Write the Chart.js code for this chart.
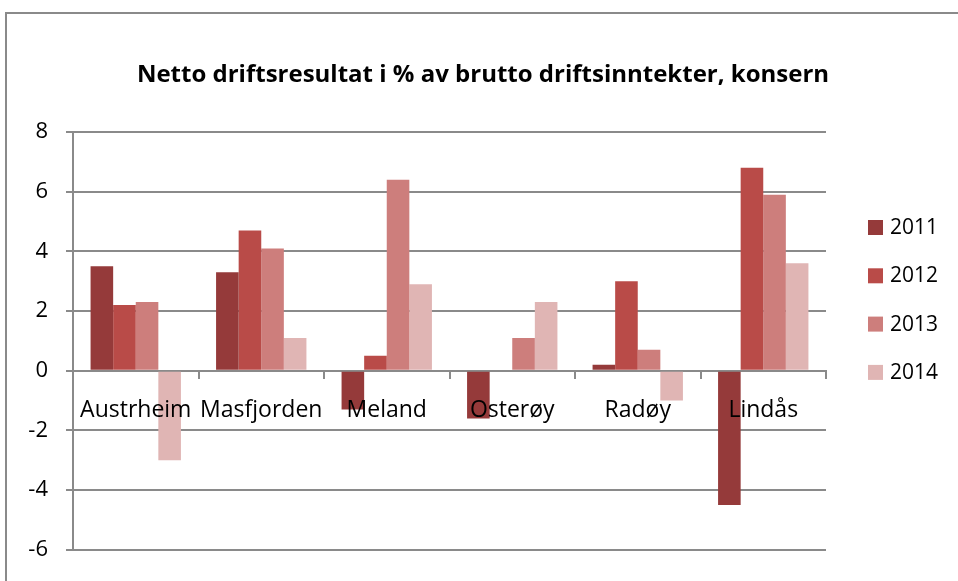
<!DOCTYPE html>
<html>
<head>
<meta charset="utf-8">
<script src="https://cdn.jsdelivr.net/npm/chart.js@4/dist/chart.umd.min.js"></script>
<style>
  html, body { margin: 0; padding: 0; background: #fff; overflow: hidden; }
  #wrap { position: relative; width: 958px; height: 581px; }
  #ramme { position: absolute; left: 5px; top: 12px; width: 1000px; height: 700px;
           border-left: 2px solid #8a8a8a; border-top: 2px solid #8a8a8a; }
  canvas { position: absolute; left: 0; top: 0; }
</style>
</head>
<body>
<div id="wrap">
  <div id="ramme"></div>
  <canvas id="graf" width="958" height="581"></canvas>
</div>
<script>
'use strict';

// ─── Data ────────────────────────────────────────────────────────────────────
const tittel = 'Netto driftsresultat i % av brutto driftsinntekter, konsern';
const kommuner = ['Austrheim', 'Masfjorden', 'Meland', 'Osterøy', 'Radøy', 'Lindås'];
const aar = ['2011', '2012', '2013', '2014'];
const v2011 = [3.5, 3.3, -1.3, -1.6, 0.2, -4.5];
const v2012 = [2.2, 4.7, 0.5, 0, 3.0, 6.8];
const v2013 = [2.3, 4.1, 6.4, 1.1, 0.7, 5.9];
const v2014 = [-3.0, 1.1, 2.9, 2.3, -1.0, 3.6];
const yTicks = [-6, -4, -2, 0, 2, 4, 6, 8];

const farger = ['#953a3a', '#b94b48', '#cd7e7c', '#e0b5b4'];
const FONT = "'Open Sans', sans-serif";
const GRID = '#8a8a8a';

// Tittel og legende tegnes selv, slik at de står som i originalen
const tekstPlugin = {
    id: 'tekst',
    afterDraw(chart) {
        const ctx = chart.ctx;
        ctx.save();
        ctx.fillStyle = '#000';
        ctx.font = `bold 24px ${FONT}`;
        ctx.textAlign = 'center';
        ctx.textBaseline = 'middle';
        ctx.fillText(tittel, 483, 75);

        ctx.font = `21px ${FONT}`;
        ctx.textAlign = 'left';
        chart.data.datasets.forEach((ds, i) => {
            const y = 220 + i * 48.3;
            ctx.fillStyle = ds.backgroundColor;
            ctx.fillRect(868, y, 15, 15);
            ctx.fillStyle = '#000';
            ctx.fillText(ds.label, 890, y + 8);
        });
        ctx.restore();
    },
};

const serier = [v2011, v2012, v2013, v2014];

new Chart(document.getElementById('graf'), {
    type: 'bar',
    data: {
        labels: kommuner,
        datasets: serier.map((data, i) => ({
            label: aar[i],
            data,
            backgroundColor: farger[i],
            borderWidth: 0,
            categoryPercentage: 0.72,
            barPercentage: 1.0,
        })),
    },
    options: {
        responsive: false,
        animation: false,
        layout: { padding: { left: 0, right: 132, top: 132, bottom: 22 } },
        plugins: {
            legend: { display: false },
            tooltip: { enabled: false },
            title: { display: false },
        },
        scales: {
            x: {
                position: { y: 0 },
                grid: {
                    display: true,
                    drawOnChartArea: false,
                    drawTicks: true,
                    tickLength: 7,
                    color: GRID,
                    lineWidth: 2,
                    offset: true,
                },
                border: { display: true, color: GRID, width: 2 },
                ticks: {
                    z: 1,
                    color: '#000',
                    font: { family: FONT, size: 23 },
                    padding: 19,
                    maxRotation: 0,
                    autoSkip: false,
                },
            },
            y: {
                min: -6,
                max: 8,
                afterFit(scale) { scale.width = 73; },
                afterBuildTicks(scale) { scale.ticks = yTicks.map(v => ({ value: v })); },
                grid: { color: GRID, lineWidth: 2, tickLength: 7 },
                border: { display: true, color: GRID, width: 2 },
                ticks: {
                    color: '#000',
                    font: { family: FONT, size: 22 },
                    padding: 18,
                },
            },
        },
    },
    plugins: [tekstPlugin],
});
</script>
</body>
</html>
